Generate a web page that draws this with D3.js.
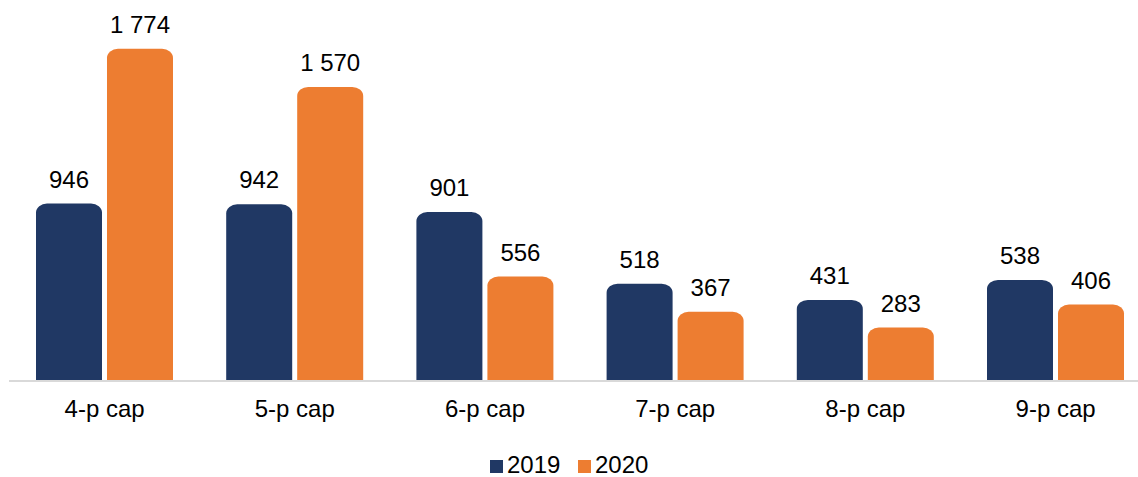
<!DOCTYPE html>
<html>
<head>
<meta charset="utf-8">
<script src="https://cdn.jsdelivr.net/npm/d3@7"></script>
<style>
  body { margin: 0; background: #fff; }
  text { font-family: "Liberation Sans", Arial, sans-serif; fill: #000; }
</style>
</head>
<body>
<div id="chart"></div>
<script>
// chart data
var categories = ["4-p cap", "5-p cap", "6-p cap", "7-p cap", "8-p cap", "9-p cap"];
var seriesNames = ["2019", "2020"];
var values2019 = [946, 942, 901, 518, 431, 538];
var values2020 = [1774, 1570, 556, 367, 283, 406];
var colors = ["#203864", "#ED7D31"];

var svgWidth = 1138;
var svgHeight = 477;
var baseY = 380.5;

var svg = d3.select("#chart")
  .append("svg")
  .attr("width", svgWidth)
  .attr("height", svgHeight);

// scales
var x0 = d3.scaleBand()
  .domain(categories)
  .range([9.5, 9.5 + 6 * 190.2]);

var x1 = d3.scaleBand()
  .domain(seriesNames)
  .range([26.5, 163.5])
  .paddingInner(0.0704);

var yscale = d3.scaleLinear()
  .domain([0, 1800])
  .range([baseY, baseY - 1800 * 0.187]);

var rows = [];
categories.forEach(function(c, i) {
  rows.push({ cat: c, series: "2019", value: values2019[i], color: colors[0] });
  rows.push({ cat: c, series: "2020", value: values2020[i], color: colors[1] });
});

// bar with rounded top corners
function barPath(d) {
  var x = x0(d.cat) + x1(d.series);
  var w = x1.bandwidth();
  var top = yscale(d.value);
  var rx = 11, ry = 9;
  return "M" + x + "," + baseY +
    "V" + (top + ry) +
    "A" + rx + "," + ry + " 0 0 1 " + (x + rx) + "," + top +
    "H" + (x + w - rx) +
    "A" + rx + "," + ry + " 0 0 1 " + (x + w) + "," + (top + ry) +
    "V" + baseY + "Z";
}

svg.append("g").selectAll("path")
  .data(rows)
  .enter()
  .append("path")
  .attr("d", barPath)
  .attr("fill", d => d.color);

// baseline
svg.append("line")
  .attr("x1", 9)
  .attr("x2", 1138)
  .attr("y1", baseY + 0.5)
  .attr("y2", baseY + 0.5)
  .attr("stroke", "#D9D9D9")
  .attr("stroke-width", 2);

// value labels
svg.append("g").selectAll("text")
  .data(rows)
  .enter()
  .append("text")
  .attr("x", d => x0(d.cat) + x1(d.series) + x1.bandwidth() / 2)
  .attr("y", d => yscale(d.value) - 16)
  .attr("text-anchor", "middle")
  .style("font-size", "24px")
  .text(d => d3.format(",")(d.value).replace(",", " "));

// category axis labels
var xAxis = d3.axisBottom(x0).tickSize(0).tickPadding(0);
var axisG = svg.append("g")
  .attr("transform", "translate(0," + baseY + ")")
  .call(xAxis);
axisG.select(".domain").remove();
axisG.selectAll("text")
  .attr("y", 0)
  .attr("dy", 36)
  .style("font-size", "24px")
  .style("font-family", "'Liberation Sans', Arial, sans-serif")
  .attr("fill", "#000");

// legend
var legend = svg.append("g").attr("transform", "translate(490,473)");
var items = legend.selectAll("g")
  .data(seriesNames)
  .enter()
  .append("g")
  .attr("transform", (d, i) => "translate(" + (i * 88) + ",0)");
items.append("rect")
  .attr("x", 0)
  .attr("y", -13)
  .attr("width", 13)
  .attr("height", 13)
  .attr("fill", (d, i) => colors[i]);
items.append("text")
  .attr("x", 17)
  .attr("y", 0)
  .style("font-size", "24px")
  .text(d => d);
</script>
</body>
</html>
